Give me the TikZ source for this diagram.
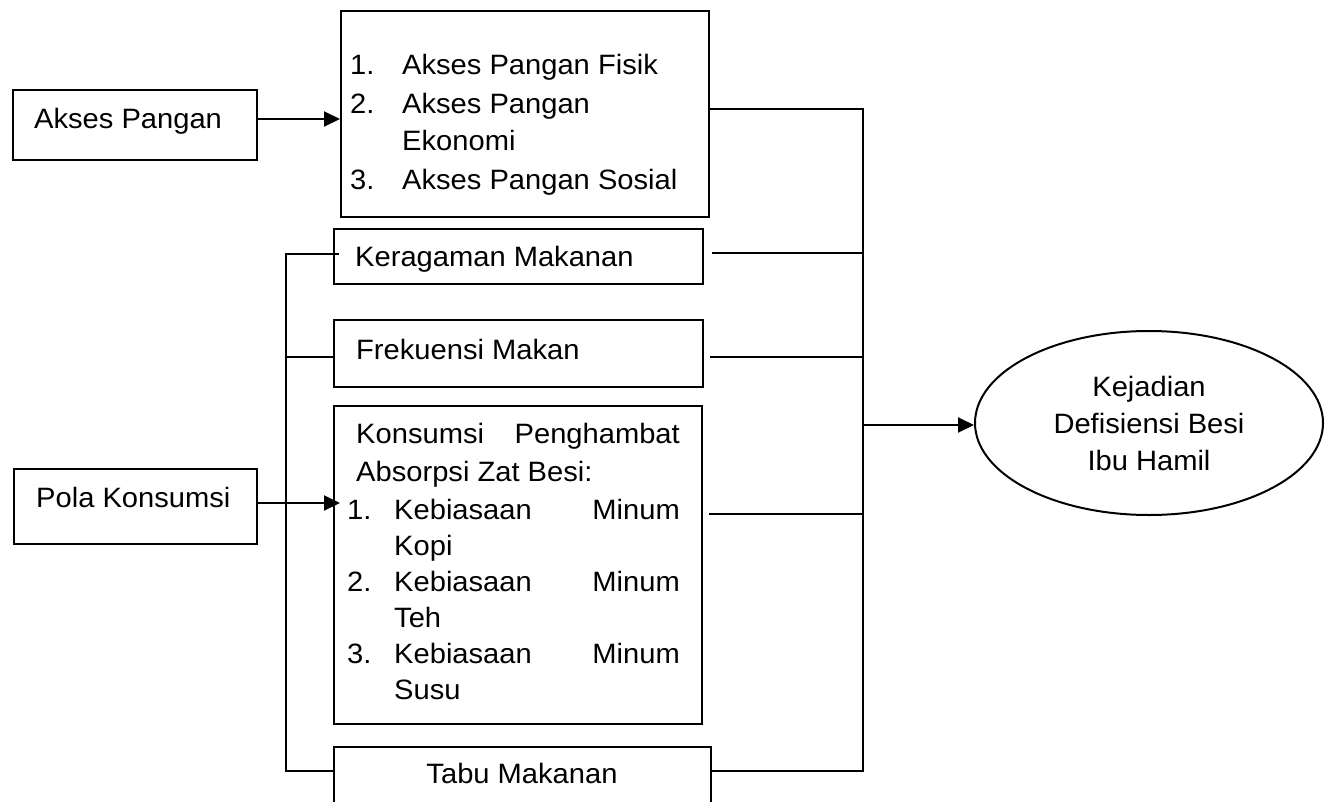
\documentclass[tikz,border=0pt]{standalone}
\usepackage{fontspec}
\setmainfont{Liberation Sans}[FakeStretch=1.04]
\usetikzlibrary{arrows.meta,shapes.geometric,calc}
\begin{document}
\begin{tikzpicture}[x=1pt,y=-1pt,
  every node/.style={font=\fontsize{28pt}{37pt}\selectfont},
  box/.style={draw, line width=2pt, inner sep=0pt, anchor=north west},
  txt/.style={anchor=base west, inner sep=0pt},
  txtr/.style={anchor=base east, inner sep=0pt},
  conn/.style={line width=1.2pt},
  arr/.style={line width=2pt, -{Triangle[length=16pt,width=15pt]}}]
\useasboundingbox (0,0) rectangle (1326,801);
\clip (0,0) rectangle (1326,801);
% boxes
\node[box, minimum width=244pt, minimum height=70pt] (ap) at (12,89) {};
\node[box, minimum width=243pt, minimum height=75pt] (pk) at (13,468) {};
\node[box, minimum width=368pt, minimum height=206pt] (b1) at (340,10) {};
\node[box, minimum width=369pt, minimum height=55pt] (ker) at (333,228) {};
\node[box, minimum width=369pt, minimum height=67pt] (fre) at (333,319) {};
\node[box, minimum width=368pt, minimum height=318pt] (kon) at (333,405) {};
\node[box, minimum width=377pt, minimum height=80pt] (tabu) at (333,746) {};
\node[draw, ellipse, line width=2pt, minimum width=348pt, minimum height=184pt, inner sep=0pt, align=center] (kej) at (1149,423) {Kejadian\\Defisiensi Besi\\Ibu Hamil};
% texts
\node[txt] (tap) at (34,128) {Akses Pangan};
\node[txt] (tpk) at (36,507) {Pola Konsumsi};
\node[txt] (n1) at (350,74) {1.};
\node[txt] (a1) at (402,74) {Akses Pangan Fisik};
\node[txt] (n2) at (350,113) {2.};
\node[txt] (a2) at (402,113) {Akses Pangan};
\node[txt] (a2b) at (402,150) {Ekonomi};
\node[txt] (n3) at (350,189) {3.};
\node[txt] (a3) at (402,189) {Akses Pangan Sosial};
\node[txt] (tker) at (355,266) {Keragaman Makanan};
\node[txt] (tfre) at (356,359) {Frekuensi Makan};
\node[anchor=base, inner sep=0pt] (ttabu) at (522,783) {Tabu Makanan};
\node[txt] (k1) at (356,443) {Konsumsi};
\node[txtr] (k1r) at (680,443) {Penghambat};
\node[txt] (k2) at (356,481) {Absorpsi Zat Besi:};
\node[txt] (m1) at (347,519) {1.};
\node[txt] (m1a) at (394,519) {Kebiasaan};
\node[txtr] (m1b) at (680,519) {Minum};
\node[txt] (m1c) at (394,555) {Kopi};
\node[txt] (m2) at (347,591) {2.};
\node[txt] (m2a) at (394,591) {Kebiasaan};
\node[txtr] (m2b) at (680,591) {Minum};
\node[txt] (m2c) at (394,627) {Teh};
\node[txt] (m3) at (347,663) {3.};
\node[txt] (m3a) at (394,663) {Kebiasaan};
\node[txtr] (m3b) at (680,663) {Minum};
\node[txt] (m3c) at (394,699) {Susu};
% coordinates of buses
\coordinate (lt) at (286,254);
\coordinate (lb) at (286,771);
\coordinate (rt) at (863,109);
\coordinate (rb) at (863,771);
\coordinate (rm) at (863,425);
% left bus
\draw[conn] ($(ker.west |- lt)+(6,0)$) -- (lt) -- (lb) -- (tabu.west |- lb);
\draw[conn] (lt |- 0,357) -- (fre.west |- 0,357);
% right bus
\draw[conn] (b1.east |- rt) -- (rt) -- (rb) -- (tabu.east |- rb);
\draw[conn] ($(ker.east |- 0,253)+(8,0)$) -- (rt |- 0,253);
\draw[conn] ($(fre.east |- 0,357)+(6,0)$) -- (rt |- 0,357);
\draw[conn] ($(kon.east |- 0,514)+(6,0)$) -- (rt |- 0,514);
% arrows
\draw[arr] (ap.east |- 0,119) -- (b1.west |- 0,119);
\draw[arr] (pk.east |- 0,503) -- ($(kon.west |- 0,503)+(7,0)$);
\draw[arr] (rm) -- (kej.west |- rm);
\end{tikzpicture}
\end{document}
